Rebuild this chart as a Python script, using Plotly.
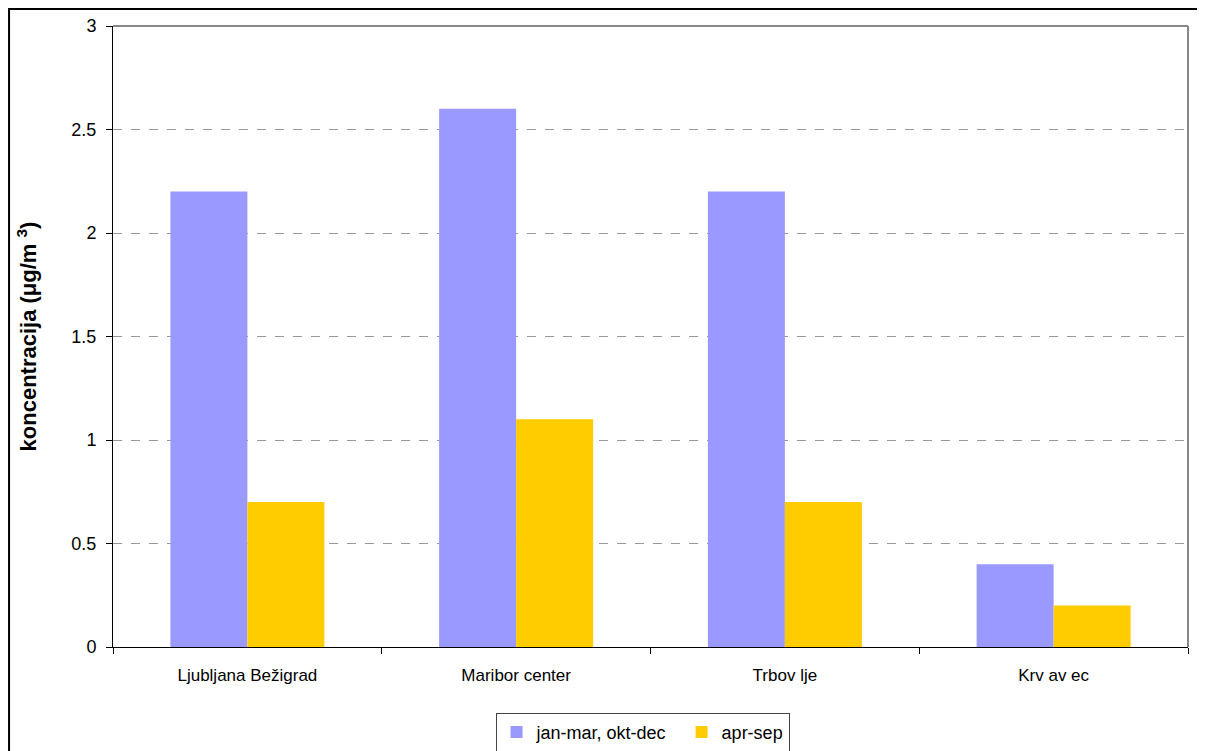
import plotly.graph_objects as go

categories = ["Ljubljana Bežigrad", "Maribor center", "Trbov lje", "Krv av ec"]
winter = [2.2, 2.6, 2.2, 0.4]
summer = [0.7, 1.1, 0.7, 0.2]
series_names = ["jan-mar, okt-dec\u00a0\u00a0", "apr-sep"]
y_ticks = [0, 0.5, 1, 1.5, 2, 2.5, 3]
y_ticklabels = ["0", "0.5", "1", "1.5", "2", "2.5", "3"]

FONT = "Liberation Sans, Arial, sans-serif"

fig = go.Figure()
fig.add_trace(go.Bar(x=categories, y=winter, name=series_names[0], marker=dict(color="#9999FF", line=dict(width=0))))
fig.add_trace(go.Bar(x=categories, y=summer, name=series_names[1], marker=dict(color="#FFCC00", line=dict(width=0))))

fig.update_layout(
    width=1197, height=743,
    margin=dict(l=105, r=17, t=18, b=104, autoexpand=False),
    paper_bgcolor="white", plot_bgcolor="white",
    barmode="group", bargap=0.427, bargroupgap=0,
    font=dict(family=FONT, size=17, color="black"),
    showlegend=True,
    legend=dict(orientation="h", x=0.4926, xanchor="center", y=-0.106, yanchor="top",
                bordercolor="#444444", borderwidth=1, bgcolor="white",
                font=dict(size=18), tracegroupgap=0),
    xaxis=dict(showline=True, linecolor="black", linewidth=1, ticks="outside", ticklen=6,
               tickcolor="black", tickson="boundaries", showgrid=False,
               tickfont=dict(size=17), ticklabelstandoff=13),
    yaxis=dict(range=[0, 3], tickvals=y_ticks, ticktext=y_ticklabels, showline=True,
               linecolor="black", linewidth=1, ticks="outside", ticklen=6, tickcolor="black",
               showgrid=True, gridcolor="#999999", griddash="dash", gridwidth=1,
               zeroline=False, tickfont=dict(size=18), ticklabelstandoff=6,
               title=dict(text="<b>koncentracija (μg/m <sup>3</sup>)</b>", font=dict(size=22), standoff=28)),
    shapes=[
        dict(type="line", xref="paper", yref="paper", x0=0, x1=1, y0=1, y1=1, line=dict(color="#888888", width=2)),
        dict(type="line", xref="paper", yref="paper", x0=1, x1=1, y0=0, y1=1, line=dict(color="#888888", width=2)),
        dict(type="rect", xref="paper", yref="paper", x0=-0.0967, x1=1.05, y0=-0.5, y1=1.0274,
             line=dict(color="black", width=2), layer="below"),
    ],
)

fig.write_html("out.html")
